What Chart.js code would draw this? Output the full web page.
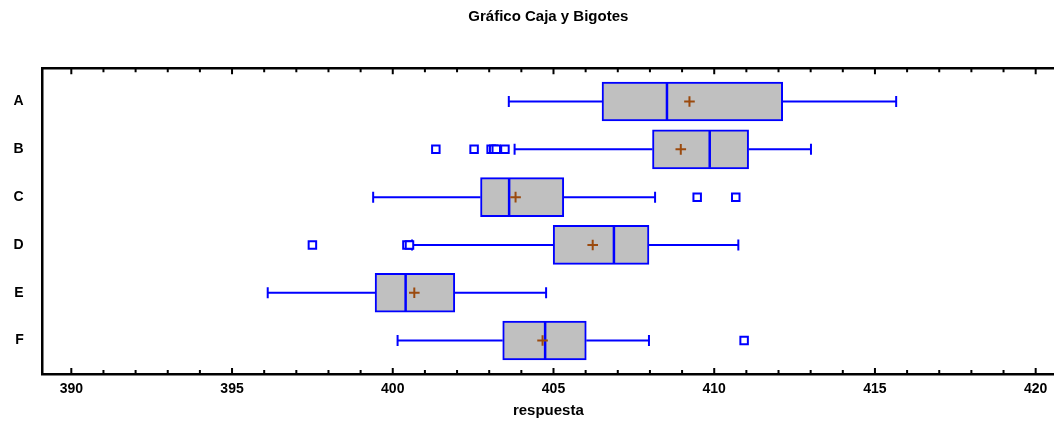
<!DOCTYPE html>
<html lang="es">
<head>
<meta charset="UTF-8">
<title>Gráfico Caja y Bigotes</title>
<script src="https://cdn.jsdelivr.net/npm/chart.js@4/dist/chart.umd.min.js"></script>
<style>
  html, body { margin: 0; padding: 0; background: #fff; overflow: hidden; }
  #wrap { position: relative; width: 1054px; height: 421px; }
  #cajas { display: block; }
</style>
</head>
<body>
<div id="wrap"><canvas id="cajas"></canvas></div>
<script>
  // resumen de cada grupo
  const grupos = ['A', 'B', 'C', 'D', 'E', 'F'];
  const minimo = [403.61, 403.79, 399.39, 400.60, 396.11, 400.15];
  const q1 = [406.51, 408.08, 402.73, 404.99, 399.45, 403.42];
  const mediana = [408.53, 409.86, 403.62, 406.88, 400.40, 404.74];
  const q3 = [412.13, 411.07, 405.32, 407.97, 401.93, 406.02];
  const maximo = [415.66, 413.01, 408.16, 410.75, 404.77, 407.97];
  const media = [409.23, 408.96, 403.82, 406.22, 400.67, 404.66];
  const atipicos = [
    [],
    [401.34, 402.53, 403.06, 403.14, 403.22, 403.49],
    [409.47, 410.67],
    [397.50, 400.44, 400.52],
    [],
    [410.93]
  ];
  const marcasX = [390, 391, 392, 393, 394, 395, 396, 397, 398, 399, 400, 401, 402, 403, 404, 405,
    406, 407, 408, 409, 410, 411, 412, 413, 414, 415, 416, 417, 418, 419, 420];

  const fuente = "'Liberation Sans', Arial, sans-serif";
  const azul = '#0000FF';

  const cajas = grupos.map((g, i) => ({ x: [q1[i], q3[i]], y: i }));
  const bigotes = [];
  const topes = [];
  grupos.forEach((g, i) => {
    bigotes.push({ x: minimo[i], y: i }, { x: q1[i], y: i }, { x: null, y: null });
    bigotes.push({ x: q3[i], y: i }, { x: maximo[i], y: i }, { x: null, y: null });
    topes.push({ x: minimo[i], y: i }, { x: maximo[i], y: i });
  });
  const medianas = grupos.map((g, i) => ({ x: mediana[i], y: i }));
  const medias = grupos.map((g, i) => ({ x: media[i], y: i }));
  const puntos = [];
  atipicos.forEach((lista, i) => lista.forEach(v => puntos.push({ x: v, y: i })));

  // marco superior y marcas hacia dentro en los bordes de arriba y abajo
  const marco = {
    id: 'marco',
    afterDraw(chart) {
      const { ctx, chartArea } = chart;
      const sx = chart.scales.x;
      ctx.save();
      ctx.strokeStyle = '#000';
      ctx.lineWidth = 2.5;
      ctx.beginPath();
      ctx.moveTo(chartArea.left, chartArea.top);
      ctx.lineTo(chartArea.right, chartArea.top);
      ctx.stroke();
      ctx.lineWidth = 2;
      marcasX.forEach(v => {
        const px = sx.getPixelForValue(v);
        const len = v % 5 === 0 ? 6 : 4;
        ctx.beginPath();
        ctx.moveTo(px, chartArea.top);
        ctx.lineTo(px, chartArea.top + len);
        ctx.moveTo(px, chartArea.bottom);
        ctx.lineTo(px, chartArea.bottom - len);
        ctx.stroke();
      });
      ctx.restore();
    }
  };

  new Chart('cajas', {
    type: 'bar',
    data: {
      datasets: [
        {
          type: 'scatter', data: medias,
          pointStyle: 'cross', pointRadius: 5.3, borderColor: '#9B4A0E', borderWidth: 2
        },
        {
          type: 'scatter', data: puntos,
          pointStyle: 'rect', pointRadius: 5.3, backgroundColor: '#fff', borderColor: azul, borderWidth: 2
        },
        {
          type: 'scatter', data: medianas,
          pointStyle: 'line', rotation: 90, pointRadius: 18.5, borderColor: azul, borderWidth: 2.5
        },
        {
          type: 'scatter', data: topes,
          pointStyle: 'line', rotation: 90, pointRadius: 5.5, borderColor: azul, borderWidth: 2
        },
        {
          type: 'bar', data: cajas,
          backgroundColor: '#C0C0C0', borderColor: azul, borderWidth: 2,
          borderSkipped: false, barThickness: 39
        },
        {
          type: 'scatter', data: bigotes, showLine: true, spanGaps: false,
          pointRadius: 0, borderColor: azul, borderWidth: 2
        }
      ]
    },
    options: {
      indexAxis: 'y',
      responsive: true,
      maintainAspectRatio: false,
      animation: false,
      events: [],
      layout: { padding: 0, autoPadding: false },
      plugins: {
        legend: { display: false },
        tooltip: { enabled: false },
        title: {
          display: true,
          fullSize: false,
          text: 'Gráfico Caja y Bigotes',
          color: '#000',
          font: { family: fuente, size: 15, weight: 'bold' },
          padding: { top: 7.7, bottom: 42.6 }
        }
      },
      scales: {
        x: {
          type: 'linear',
          position: 'bottom',
          offset: false,
          min: 389.11,
          max: 420.57,
          afterBuildTicks: s => { s.ticks = marcasX.map(v => ({ value: v })); },
          afterFit: s => { s.height = 47; s.paddingLeft = 0; s.paddingRight = 0; },
          grid: { display: false, drawTicks: false, offset: false },
          border: { display: true, color: '#000', width: 2.5 },
          ticks: {
            autoSkip: false,
            maxRotation: 0,
            padding: 7,
            color: '#000',
            font: { family: fuente, size: 14, weight: 'bold' },
            callback: v => (v % 5 === 0 ? String(v) : '')
          },
          title: {
            display: true,
            text: 'respuesta',
            color: '#000',
            font: { family: fuente, size: 15, weight: 'bold' },
            padding: { top: 0, bottom: 1 }
          }
        },
        y: {
          type: 'linear',
          reverse: true,
          offset: false,
          min: -0.695,
          max: 5.70,
          afterBuildTicks: s => { s.ticks = grupos.map((g, i) => ({ value: i })); },
          afterFit: s => { s.width = 42.7; },
          grid: { display: false, drawTicks: false, offset: false },
          border: { display: true, color: '#000', width: 2.5 },
          ticks: {
            padding: 19,
            color: '#000',
            font: { family: fuente, size: 14, weight: 'bold' },
            callback: v => grupos[v]
          }
        }
      }
    },
    plugins: [marco]
  });
</script>
</body>
</html>
